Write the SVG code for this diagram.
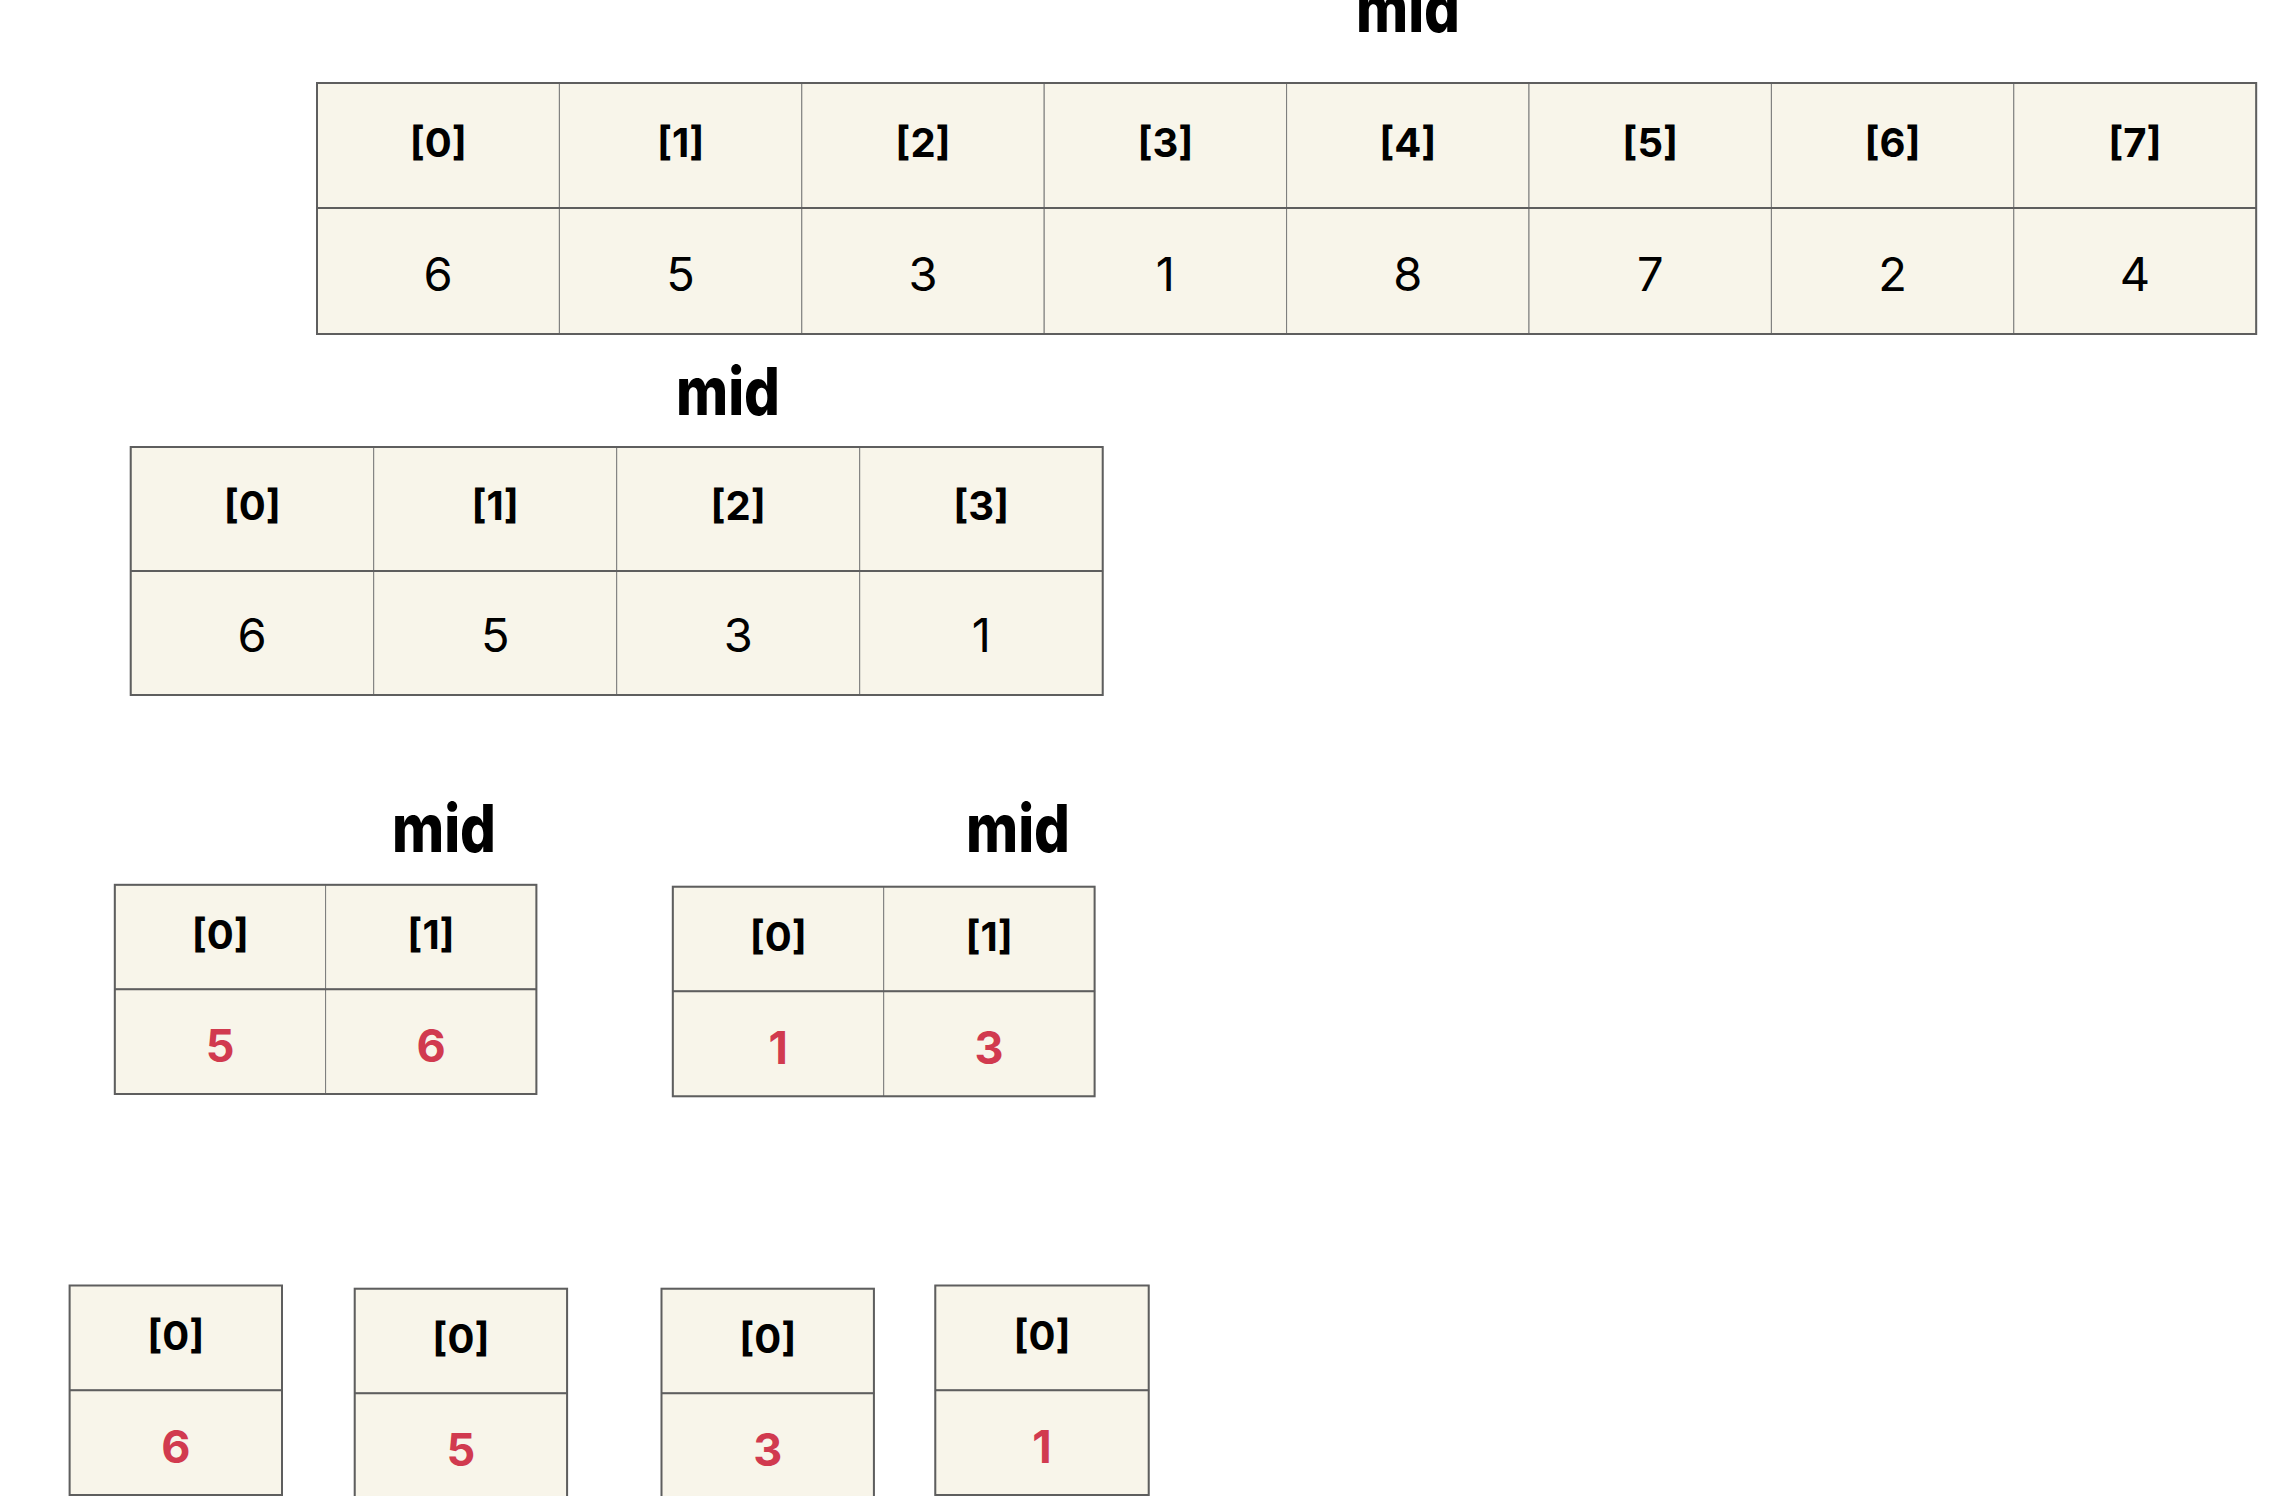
<svg xmlns="http://www.w3.org/2000/svg" width="2278" height="1496" viewBox="0 0 2278 1496">
<style>
.bg{fill:#ffffff}
.cell{fill:#F8F5EA;stroke:#7a7a7a;stroke-width:1}
.frame{fill:none;stroke:#5e5e5e;stroke-width:2}
.idx{font-family:Inter,"Liberation Sans",sans-serif;font-weight:700;font-size:40px;fill:#000;text-anchor:middle}
.val{font-family:Inter,"Liberation Sans",sans-serif;font-weight:400;font-size:47px;fill:#000;text-anchor:middle}
.red{font-family:Inter,"Liberation Sans",sans-serif;font-weight:700;font-size:45px;fill:#D13A4F;text-anchor:middle}
.mid{font-family:Inter,"Liberation Sans",sans-serif;font-weight:800;font-size:66px;fill:#000;text-anchor:middle}
</style>
<rect class="bg" x="0" y="0" width="2278" height="1496"/>

<g id="label-mid-1"><text class="mid" x="1408" y="32" textLength="104" lengthAdjust="spacingAndGlyphs">mid</text></g>
<g id="array-8">
  <rect class="cell" x="317" y="83" width="242.4" height="125"/>
  <rect class="cell" x="559.4" y="83" width="242.4" height="125"/>
  <rect class="cell" x="801.8" y="83" width="242.4" height="125"/>
  <rect class="cell" x="1044.2" y="83" width="242.4" height="125"/>
  <rect class="cell" x="1286.6" y="83" width="242.4" height="125"/>
  <rect class="cell" x="1529" y="83" width="242.4" height="125"/>
  <rect class="cell" x="1771.4" y="83" width="242.4" height="125"/>
  <rect class="cell" x="2013.8" y="83" width="242.4" height="125"/>
  <rect class="cell" x="317" y="208" width="242.4" height="126"/>
  <rect class="cell" x="559.4" y="208" width="242.4" height="126"/>
  <rect class="cell" x="801.8" y="208" width="242.4" height="126"/>
  <rect class="cell" x="1044.2" y="208" width="242.4" height="126"/>
  <rect class="cell" x="1286.6" y="208" width="242.4" height="126"/>
  <rect class="cell" x="1529" y="208" width="242.4" height="126"/>
  <rect class="cell" x="1771.4" y="208" width="242.4" height="126"/>
  <rect class="cell" x="2013.8" y="208" width="242.4" height="126"/>
  <rect class="frame" x="317" y="83" width="1939.2" height="251"/>
  <line x1="317" y1="208" x2="2256.2" y2="208" stroke="#5e5e5e" stroke-width="2"/>
  <text class="idx" x="438.2" y="157">[0]</text>
  <text class="idx" x="680.6" y="157">[1]</text>
  <text class="idx" x="923" y="157">[2]</text>
  <text class="idx" x="1165.4" y="157">[3]</text>
  <text class="idx" x="1407.8" y="157">[4]</text>
  <text class="idx" x="1650.2" y="157">[5]</text>
  <text class="idx" x="1892.6" y="157">[6]</text>
  <text class="idx" x="2135" y="157">[7]</text>
  <text class="val" x="438.2" y="291">6</text>
  <text class="val" x="680.6" y="291">5</text>
  <text class="val" x="923" y="291">3</text>
  <text class="val" x="1165.4" y="291">1</text>
  <text class="val" x="1407.8" y="291">8</text>
  <text class="val" x="1650.2" y="291">7</text>
  <text class="val" x="1892.6" y="291">2</text>
  <text class="val" x="2135" y="291">4</text>
</g>

<g id="label-mid-2"><text class="mid" x="728" y="415" textLength="104" lengthAdjust="spacingAndGlyphs">mid</text></g>
<g id="array-4">
  <rect class="cell" x="130.7" y="447" width="243" height="124"/>
  <rect class="cell" x="373.7" y="447" width="243" height="124"/>
  <rect class="cell" x="616.7" y="447" width="243" height="124"/>
  <rect class="cell" x="859.7" y="447" width="243" height="124"/>
  <rect class="cell" x="130.7" y="571" width="243" height="124"/>
  <rect class="cell" x="373.7" y="571" width="243" height="124"/>
  <rect class="cell" x="616.7" y="571" width="243" height="124"/>
  <rect class="cell" x="859.7" y="571" width="243" height="124"/>
  <rect class="frame" x="130.7" y="447" width="972" height="248"/>
  <line x1="130.7" y1="571" x2="1102.7" y2="571" stroke="#5e5e5e" stroke-width="2"/>
  <text class="idx" x="252.2" y="520">[0]</text>
  <text class="idx" x="495.2" y="520">[1]</text>
  <text class="idx" x="738.2" y="520">[2]</text>
  <text class="idx" x="981.2" y="520">[3]</text>
  <text class="val" x="252.2" y="652">6</text>
  <text class="val" x="495.2" y="652">5</text>
  <text class="val" x="738.2" y="652">3</text>
  <text class="val" x="981.2" y="652">1</text>
</g>

<g id="label-mid-3"><text class="mid" x="444" y="852" textLength="104" lengthAdjust="spacingAndGlyphs">mid</text></g>
<g id="array-2a">
  <rect class="cell" x="114.8" y="884.8" width="210.8" height="104.5"/>
  <rect class="cell" x="325.6" y="884.8" width="210.8" height="104.5"/>
  <rect class="cell" x="114.8" y="989.3" width="210.8" height="104.7"/>
  <rect class="cell" x="325.6" y="989.3" width="210.8" height="104.7"/>
  <rect class="frame" x="114.8" y="884.8" width="421.6" height="209.2"/>
  <line x1="114.8" y1="989.3" x2="536.4" y2="989.3" stroke="#5e5e5e" stroke-width="2"/>
  <text class="idx" x="220.2" y="949">[0]</text>
  <text class="idx" x="431" y="949">[1]</text>
  <text class="red" x="220.2" y="1062">5</text>
  <text class="red" x="431" y="1062">6</text>
</g>

<g id="label-mid-4"><text class="mid" x="1018" y="852" textLength="104" lengthAdjust="spacingAndGlyphs">mid</text></g>
<g id="array-2b">
  <rect class="cell" x="672.8" y="886.7" width="210.9" height="104.6"/>
  <rect class="cell" x="883.7" y="886.7" width="210.9" height="104.6"/>
  <rect class="cell" x="672.8" y="991.3" width="210.9" height="105"/>
  <rect class="cell" x="883.7" y="991.3" width="210.9" height="105"/>
  <rect class="frame" x="672.8" y="886.7" width="421.8" height="209.6"/>
  <line x1="672.8" y1="991.3" x2="1094.6" y2="991.3" stroke="#5e5e5e" stroke-width="2"/>
  <text class="idx" x="778.2" y="951">[0]</text>
  <text class="idx" x="989.1" y="951">[1]</text>
  <text class="red" x="778.2" y="1064">1</text>
  <text class="red" x="989.1" y="1064">3</text>
</g>

<g id="array-1a">
  <rect class="cell" x="69.6" y="1285.5" width="212.4" height="104.8"/>
  <rect class="cell" x="69.6" y="1390.3" width="212.4" height="104.7"/>
  <rect class="frame" x="69.6" y="1285.5" width="212.4" height="209.5"/>
  <line x1="69.6" y1="1390.3" x2="282" y2="1390.3" stroke="#5e5e5e" stroke-width="2"/>
  <text class="idx" x="175.8" y="1349.5">[0]</text>
  <text class="red" x="175.8" y="1463">6</text>
</g>
<g id="array-1b">
  <rect class="cell" x="354.7" y="1288.7" width="212.4" height="104.6"/>
  <rect class="cell" x="354.7" y="1393.3" width="212.4" height="105"/>
  <rect class="frame" x="354.7" y="1288.7" width="212.4" height="209.6"/>
  <line x1="354.7" y1="1393.3" x2="567.1" y2="1393.3" stroke="#5e5e5e" stroke-width="2"/>
  <text class="idx" x="460.9" y="1352.5">[0]</text>
  <text class="red" x="460.9" y="1466">5</text>
</g>
<g id="array-1c">
  <rect class="cell" x="661.5" y="1288.7" width="212.4" height="104.6"/>
  <rect class="cell" x="661.5" y="1393.3" width="212.4" height="105"/>
  <rect class="frame" x="661.5" y="1288.7" width="212.4" height="209.6"/>
  <line x1="661.5" y1="1393.3" x2="873.9" y2="1393.3" stroke="#5e5e5e" stroke-width="2"/>
  <text class="idx" x="767.7" y="1352.5">[0]</text>
  <text class="red" x="767.7" y="1466">3</text>
</g>
<g id="array-1d">
  <rect class="cell" x="935.3" y="1285.5" width="213.4" height="104.8"/>
  <rect class="cell" x="935.3" y="1390.3" width="213.4" height="104.7"/>
  <rect class="frame" x="935.3" y="1285.5" width="213.4" height="209.5"/>
  <line x1="935.3" y1="1390.3" x2="1148.7" y2="1390.3" stroke="#5e5e5e" stroke-width="2"/>
  <text class="idx" x="1042" y="1349.5">[0]</text>
  <text class="red" x="1042" y="1463">1</text>
</g>
</svg>
